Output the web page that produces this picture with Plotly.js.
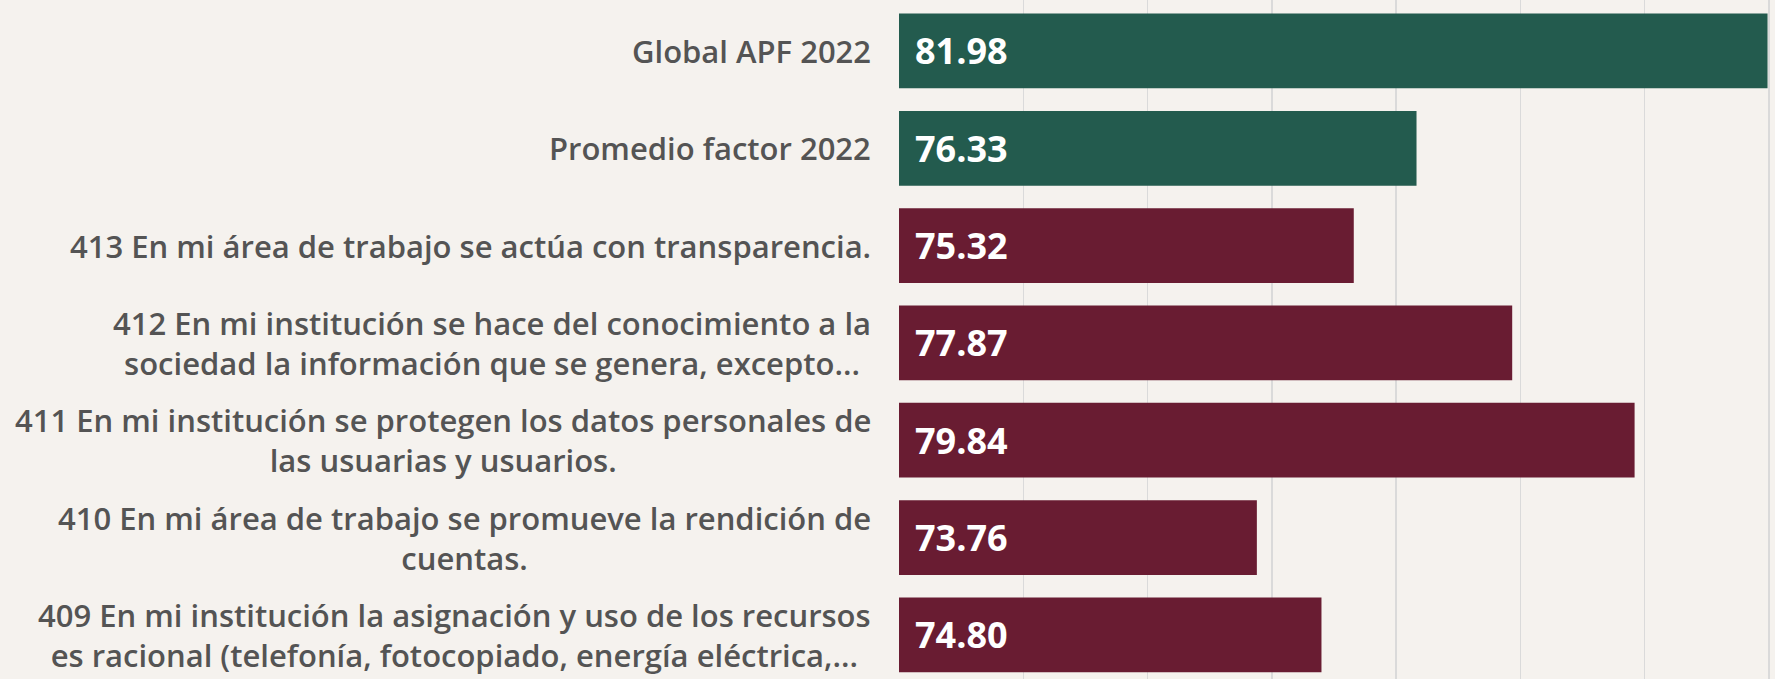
<!DOCTYPE html>
<html>
<head>
<meta charset="utf-8">
<script src="https://cdn.plot.ly/plotly-3.0.1.min.js"></script>
<style>
  html, body { margin: 0; padding: 0; background: #F5F2EE; }
  #chart { width: 1775px; height: 679px; }
</style>
</head>
<body>
<div id="chart"></div>
<script>
// Categories listed top to bottom
const categories = [
  "Global APF 2022",
  "Promedio factor 2022",
  "413 En mi área de trabajo se actúa con transparencia.",
  "412 En mi institución se hace del conocimiento a la<br>sociedad la información que se genera, excepto...",
  "411 En mi institución se protegen los datos personales de<br>las usuarias y usuarios.",
  "410 En mi área de trabajo se promueve la rendición de<br>cuentas.",
  "409 En mi institución la asignación y uso de los recursos<br>es racional (telefonía, fotocopiado, energía eléctrica,..."
];
const values = [81.98, 76.33, 75.32, 77.87, 79.84, 73.76, 74.80];
const groups = ["referencia", "referencia", "reactivo", "reactivo", "reactivo", "reactivo", "reactivo"];

const groupColors = { referencia: "#235B4E", reactivo: "#691C32" };
const xMin = 68, xMax = 82.1;

const trace = {
  type: "bar",
  orientation: "h",
  y: categories,
  x: values.map(v => v - xMin),
  base: xMin,
  marker: { color: groups.map(g => groupColors[g]) },
  hoverinfo: "skip",
  textposition: "none"
};

const labelFont = { family: "Open Sans", size: 31, color: "#545454", weight: 600 };
const valueFont = { family: "Open Sans", size: 36, color: "#FFFFFF", weight: 700 };

const annotations = [];
categories.forEach((c, i) => {
  annotations.push({
    xref: "paper", yref: "y", x: 0, y: c,
    xanchor: "right", yanchor: "middle", xshift: -26,
    align: "center", showarrow: false,
    text: c, font: labelFont
  });
  annotations.push({
    xref: "x", yref: "y", x: xMin, y: c,
    xanchor: "left", yanchor: "middle", xshift: 14,
    showarrow: false,
    text: values[i].toFixed(2), font: valueFont
  });
});

const layout = {
  width: 1775, height: 679,
  margin: { l: 899, r: 0, t: 0, b: 0, pad: 0 },
  paper_bgcolor: "#F5F2EE",
  plot_bgcolor: "#F5F2EE",
  bargap: 0.232,
  showlegend: false,
  xaxis: {
    range: [xMin, xMax],
    tick0: xMin, dtick: 2,
    showgrid: true, gridcolor: "#DADADA", gridwidth: 1.5,
    zeroline: false, showline: false, showticklabels: false, ticks: ""
  },
  yaxis: {
    type: "category",
    range: [6.454, -0.524],
    showgrid: false, zeroline: false, showline: false,
    showticklabels: false, ticks: ""
  },
  annotations: annotations
};

Plotly.newPlot("chart", [trace], layout, { displayModeBar: false, staticPlot: true });
</script>
</body>
</html>
